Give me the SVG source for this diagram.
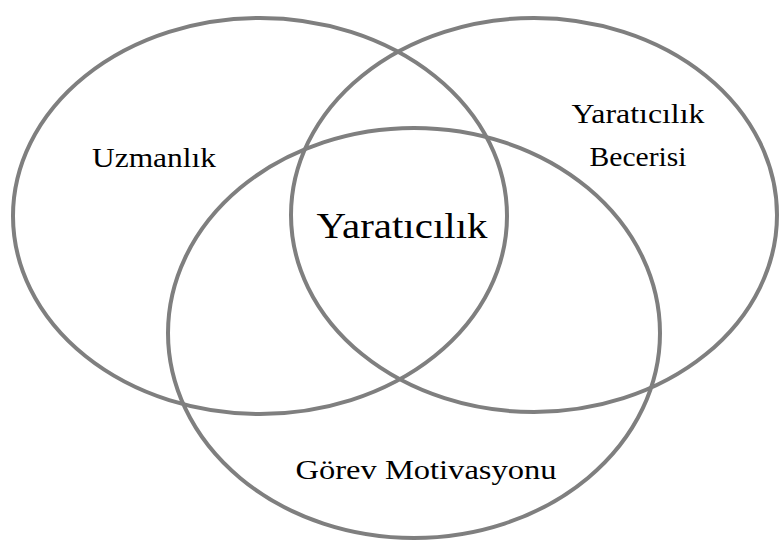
<svg xmlns="http://www.w3.org/2000/svg" width="780" height="546" viewBox="0 0 780 546">
<style>
.c{fill:none;stroke:#7f7f7f;stroke-width:4}
.t{font-family:"Liberation Serif","DejaVu Serif",serif;fill:#000;text-anchor:middle;font-size:27px}
.big{font-size:35px}
</style>
<rect width="780" height="546" fill="#fff"/>
<g id="uzmanlik"><ellipse class="c" cx="260" cy="216" rx="247" ry="198"/><text class="t" x="154" y="167" textLength="124" lengthAdjust="spacingAndGlyphs">Uzmanlık</text></g>
<g id="beceri"><ellipse class="c" cx="534" cy="215" rx="243" ry="197"/><text class="t" x="638" y="123" textLength="133" lengthAdjust="spacingAndGlyphs">Yaratıcılık</text><text class="t" x="638" y="166" textLength="97" lengthAdjust="spacingAndGlyphs">Becerisi</text></g>
<g id="motivasyon"><ellipse class="c" cx="414" cy="333" rx="246" ry="205"/><text class="t" x="426" y="479" textLength="261" lengthAdjust="spacingAndGlyphs">Görev Motivasyonu</text></g>
<g id="yaraticilik"><text class="t big" x="402" y="238" textLength="171" lengthAdjust="spacingAndGlyphs">Yaratıcılık</text></g>
</svg>
